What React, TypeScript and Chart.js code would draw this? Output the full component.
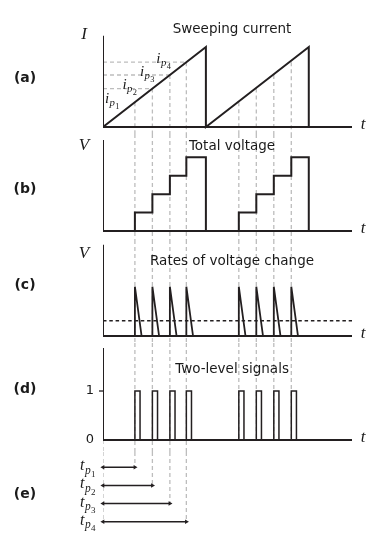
import React, { useEffect, useRef } from 'react';
import { Chart, registerables } from 'chart.js';

Chart.register(...registerables);

// ---------------- data ----------------
const T_END = 2.42; // end of the time axis (in sweep periods)
const sweepStarts = [0, 1];
const sweepEnds = [1, 2];
const sweepPeak = 1; // relative current at end of each sweep
const tpFirst = [0.31, 0.48, 0.65, 0.81]; // detection times, first sweep
const tpSecond = [1.32, 1.49, 1.66, 1.83]; // detection times, second sweep
const ipLevels = [0.31, 0.48, 0.65, 0.81]; // i_p1..i_p4 (relative current)
const voltageSteps = [1, 2, 3, 4];
const spikePeak = 1;
const spikeDecay = 0.065;
const rateThreshold = 0.31;
const signalLow = 0;
const signalHigh = 1;
const pulseWidth = 0.05;
const arrowRows = [1, 2, 3, 4];
const panelLetters = ['(a)', '(b)', '(c)', '(d)', '(e)'];
const panelTitles = ['Sweeping current', 'Total voltage', 'Rates of voltage change', 'Two-level signals'];
const signalTickLabels = ['0', '1'];
const axisNames = ['I', 'V', 'V'];

// ---------------- layout / style ----------------
const RANGES: Record<string, { min: number; max: number; top?: number; w: number; order: number }> = {
  ya: { min: -0.0875, max: 1.3375, top: 1.14, w: 114, order: 5 },
  yb: { min: -0.49, max: 5.27, top: 4.95, w: 106, order: 4 },
  yc: { min: -0.142, max: 1.947, top: 1.85, w: 103, order: 3 },
  yd: { min: -0.245, max: 1.98, top: 1.88, w: 109, order: 2 },
  ye: { min: 0.156, max: 4.458, w: 78, order: 1 },
};
const PANEL_IDS = ['ya', 'yb', 'yc', 'yd', 'ye'];
const TITLE_X = 1.254;
const TITLE_Y = [1.169, 4.375, 1.44, 1.367];
const LETTER_Y = [0.6125, 2.28, 1.02, 1.04, 2.47];
const AXIS_NAME_Y = [1.156, 4.62, 1.68];

const SOLID = '#231f20';
const GRAY = '#bdbdbd';
const MATH = '"Liberation Serif", "DejaVu Serif", serif';
const SANS = '"DejaVu Sans", Verdana, sans-serif';

type P = { x: number; y: number | null };
function seg(polys: P[][]): P[] {
  const out: P[] = [];
  polys.forEach((p, i) => {
    if (i > 0) out.push({ x: p[0].x, y: null });
    out.push(...p);
  });
  return out;
}
function ds(yAxisID: string, data: P[], extra: any = {}) {
  return {
    type: 'line',
    yAxisID,
    data,
    borderColor: SOLID,
    borderWidth: 2,
    pointRadius: 0,
    fill: false,
    tension: 0,
    spanGaps: false,
    borderJoinStyle: 'miter',
    ...extra,
  };
}
const dashedGray = { borderColor: GRAY, borderWidth: 1.3, borderDash: [4, 3] };

function buildDatasets() {
  const allTp = [...tpFirst, ...tpSecond];
  const allIp = [...ipLevels, ...ipLevels];
  const L = (id: string) => [{ x: 0, y: RANGES[id].top as number }, { x: 0, y: 0 }, { x: T_END, y: 0 }];
  const sets: any[] = [];

  // ---- (a) sweeping current ----
  sets.push(ds('ya', L('ya')));
  const ramp: P[] = [];
  sweepStarts.forEach((s, i) => {
    ramp.push({ x: s, y: 0 }, { x: sweepEnds[i], y: sweepPeak }, { x: sweepEnds[i], y: 0 });
  });
  sets.push(ds('ya', ramp));

  // ---- (b) total voltage ----
  sets.push(ds('yb', L('yb')));
  const steps: P[] = [{ x: 0, y: 0 }];
  [tpFirst, tpSecond].forEach((tps, s) => {
    tps.forEach((t, k) => steps.push({ x: t, y: voltageSteps[k] }));
    steps.push({ x: sweepEnds[s], y: 0 });
  });
  sets.push(ds('yb', steps, { stepped: 'before' }));

  // ---- (c) rates of voltage change ----
  sets.push(ds('yc', L('yc')));
  sets.push(
    ds('yc', seg(allTp.map((t) => [{ x: t, y: 0 }, { x: t, y: spikePeak }, { x: t + spikeDecay, y: 0 }])), {
      borderWidth: 1.8,
    })
  );
  sets.push(
    ds('yc', [{ x: 0, y: rateThreshold }, { x: T_END, y: rateThreshold }], {
      borderWidth: 1.5,
      borderDash: [3.5, 2.8],
    })
  );

  // ---- (d) two-level signals ----
  sets.push(ds('yd', L('yd')));
  sets.push(
    ds(
      'yd',
      seg(
        allTp.map((t) => [
          { x: t, y: signalLow },
          { x: t, y: signalHigh },
          { x: t + pulseWidth, y: signalHigh },
          { x: t + pulseWidth, y: signalLow },
        ])
      ),
      { borderWidth: 1.5 }
    )
  );

  // ---- (e) time intervals ----
  sets.push(
    ds(
      'ye',
      seg(tpFirst.map((t, k) => [{ x: 0, y: arrowRows[k] }, { x: t, y: arrowRows[k] }])),
      {
        borderWidth: 1.5,
        clip: false,
        pointStyle: 'triangle',
        pointRadius: (c: any) => (c.raw && c.raw.y != null ? 2.6 : 0),
        pointRotation: (c: any) => (c.raw && c.raw.x === 0 ? -90 : 90),
        pointBackgroundColor: SOLID,
        pointBorderColor: SOLID,
        pointBorderWidth: 0,
      }
    )
  );

  // ---- gray dashed guide lines ----
  sets.push(ds('ya', seg(ipLevels.slice(1).map((ip, k) => [{ x: 0, y: ip }, { x: tpFirst[k + 1], y: ip }])), dashedGray));
  sets.push(ds('ya', seg(allTp.map((t, k) => [{ x: t, y: allIp[k] }, { x: t, y: RANGES.ya.min }])), dashedGray));
  ['yb', 'yc'].forEach((id) => {
    sets.push(ds(id, seg(allTp.map((t) => [{ x: t, y: RANGES[id].max }, { x: t, y: RANGES[id].min }])), dashedGray));
  });
  sets.push(
    ds(
      'yd',
      seg([
        ...tpFirst.map((t) => [{ x: t, y: RANGES.yd.max }, { x: t, y: RANGES.yd.min }]),
        ...tpSecond.map((t) => [{ x: t, y: RANGES.yd.max }, { x: t, y: signalLow }]),
        [{ x: 0, y: signalLow }, { x: 0, y: RANGES.yd.min }],
      ]),
      dashedGray
    )
  );
  sets.push(
    ds(
      'ye',
      seg([
        ...tpFirst.map((t, k) => [{ x: t, y: RANGES.ye.min }, { x: t, y: arrowRows[k] }]),
        [{ x: 0, y: RANGES.ye.min }, { x: 0, y: arrowRows[3] }],
      ]),
      dashedGray
    )
  );
  return sets;
}

function drawSub(ctx: CanvasRenderingContext2D, x: number, y: number, main: string, sub: string, digit: string, s: number) {
  ctx.textAlign = 'left';
  ctx.textBaseline = 'alphabetic';
  ctx.font = `italic ${s}px ${MATH}`;
  ctx.fillText(main, x, y);
  x += ctx.measureText(main).width + 0.5;
  const s2 = s * 0.72;
  const y2 = y + s * 0.22;
  ctx.font = `italic ${s2}px ${MATH}`;
  ctx.fillText(sub, x, y2);
  x += ctx.measureText(sub).width + 0.3;
  const s3 = s * 0.56;
  ctx.font = `${s3}px ${MATH}`;
  ctx.fillText(digit, x, y2 + s * 0.18);
}

const textPlugin = {
  id: 'schematicText',
  afterDraw(chart: any) {
    const ctx: CanvasRenderingContext2D = chart.ctx;
    const xs = chart.scales.x;
    const X = (v: number) => xs.getPixelForValue(v);
    const Y = (id: string, v: number) => chart.scales[id].getPixelForValue(v);
    const left = chart.chartArea.left;
    ctx.save();
    ctx.fillStyle = '#1a1a1a';

    // titles
    ctx.font = `13.5px ${SANS}`;
    ctx.textAlign = 'center';
    ctx.textBaseline = 'alphabetic';
    panelTitles.forEach((t, i) => ctx.fillText(t, X(TITLE_X), Y(PANEL_IDS[i], TITLE_Y[i])));

    // panel letters
    ctx.font = `bold 14px ${SANS}`;
    ctx.textBaseline = 'middle';
    panelLetters.forEach((t, i) => ctx.fillText(t, 25, Y(PANEL_IDS[i], LETTER_Y[i])));

    // axis names
    ctx.font = `italic 17px ${MATH}`;
    axisNames.forEach((n, i) => ctx.fillText(n, left - 19, Y(PANEL_IDS[i], AXIS_NAME_Y[i])));
    ['ya', 'yb', 'yc', 'yd'].forEach((id) => ctx.fillText('t', X(T_END) + 11, Y(id, 0) - 2));

    // signal ticks
    ctx.font = `13px ${SANS}`;
    [signalLow, signalHigh].forEach((v, i) => ctx.fillText(signalTickLabels[i], left - 13, Y('yd', v)));
    ctx.strokeStyle = SOLID;
    ctx.lineWidth = 1.3;
    ctx.beginPath();
    ctx.moveTo(left - 4, Y('yd', signalHigh));
    ctx.lineTo(left, Y('yd', signalHigh));
    ctx.stroke();

    // i_p labels
    ipLevels.forEach((ip, k) => {
      drawSub(ctx, X(tpFirst[k]) - 30, Y('ya', ip) + 0.5, 'i', 'p', String(k + 1), 15);
    });
    // t_p labels
    arrowRows.forEach((r, k) => {
      drawSub(ctx, 80, Y('ye', r) + 3, 't', 'p', String(k + 1), 16);
    });
    ctx.restore();
  },
};

export default function App() {
  const ref = useRef<HTMLCanvasElement | null>(null);
  useEffect(() => {
    if (!ref.current) return;
    const scales: any = {
      x: { type: 'linear', min: 0, max: T_END, display: false },
    };
    PANEL_IDS.forEach((id) => {
      const r = RANGES[id];
      scales[id] = {
        type: 'linear',
        position: 'left',
        stack: 'panels',
        stackWeight: r.w,
        weight: r.order,
        min: r.min,
        max: r.max,
        reverse: id === 'ye',
        display: false,
      };
    });
    const chart = new Chart(ref.current, {
      type: 'line',
      data: { datasets: buildDatasets() },
      options: {
        animation: false,
        responsive: false,
        devicePixelRatio: 1,
        events: [],
        layout: { padding: { left: 103, right: 29, top: 20, bottom: 13 } },
        plugins: { legend: { display: false }, tooltip: { enabled: false } },
        scales,
      } as any,
      plugins: [textPlugin],
    } as any);
    return () => chart.destroy();
  }, []);
  return (
    <div style={{ position: 'absolute', left: 0, top: 0, width: 381, height: 543, background: '#fff' }}>
      <canvas ref={ref} width={381} height={543} style={{ display: 'block' }} />
    </div>
  );
}
